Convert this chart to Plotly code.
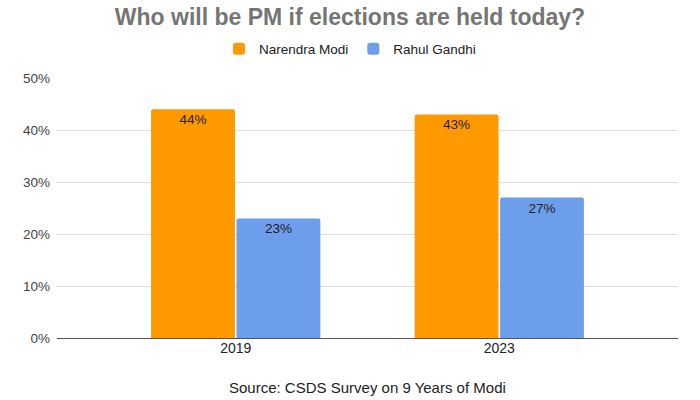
import plotly.graph_objects as go

years = ["2019", "2023"]
modi = [44, 43]
gandhi = [23, 27]
series_names = ["Narendra Modi", "Rahul Gandhi"]
title_text = "Who will be PM if elections are held today?"
source_text = "Source: CSDS Survey on 9 Years of Modi"

fig = go.Figure()
fig.add_trace(go.Bar(
    x=years, y=modi, name=series_names[0],
    marker=dict(color="#FF9900", line=dict(width=0)),
    text=[f"{v}%" for v in modi], textposition="inside",
    insidetextanchor="end", textfont=dict(color="#222222", size=13.5),
))
fig.add_trace(go.Bar(
    x=years, y=gandhi, name=series_names[1],
    marker=dict(color="#6D9EEB", line=dict(width=0)),
    text=[f"{v}%" for v in gandhi], textposition="inside",
    insidetextanchor="end", textfont=dict(color="#222222", size=13.5),
))

fig.update_layout(
    width=700, height=400,
    margin=dict(l=57, r=22, t=78, b=62, autoexpand=False),
    paper_bgcolor="white", plot_bgcolor="white",
    font=dict(family="Liberation Sans, Arial, sans-serif", size=13, color="#444444"),
    title=dict(text=f"<b>{title_text}</b>", x=0.5, xanchor="center",
               y=1 - 17 / 400, yanchor="middle", yref="container",
               font=dict(size=23, color="#757575")),
    legend=dict(orientation="h", x=0.5, xanchor="center", xref="container",
                y=1 - 49 / 400, yanchor="middle", yref="container",
                font=dict(size=13.5, color="#222222")),
    barmode="group", bargap=0.352, bargroupgap=0.018,
    barcornerradius=2,
    showlegend=True,
)
fig.update_xaxes(
    type="category", range=[-0.678, 1.678], showgrid=False, automargin=False,
    tickfont=dict(size=14, color="#222222"), ticks="", showline=False,
)
fig.update_yaxes(
    range=[0, 50], dtick=10, ticksuffix="%", showgrid=True, automargin=False,
    gridcolor="#DDDDDD", gridwidth=1, zeroline=True, zerolinecolor="#555555",
    zerolinewidth=1, tickfont=dict(size=13.5, color="#444444"), ticks="",
    ticklabelstandoff=6,
)
fig.add_annotation(
    text=source_text, xref="paper", yref="paper", x=0.5,
    y=-(387 - 338) / 260, yanchor="middle", showarrow=False,
    font=dict(size=15, color="#222222"),
)

fig.write_html(
    "out.html",
    config={"displayModeBar": False},
    post_script="document.body.style.margin='0';document.body.style.padding='0';",
)
